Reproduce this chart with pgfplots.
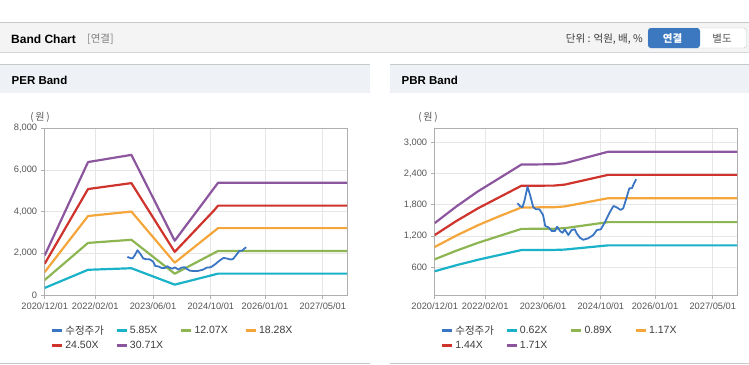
\documentclass[border=0pt]{standalone}
\usepackage{fontspec}
\setmainfont{Liberation Sans}
\newfontfamily\kr{Noto Sans CJK KR}
\usepackage{pgfplots}
\pgfplotsset{compat=1.18}

\definecolor{cPrice}{RGB}{58,117,196}
\definecolor{cCyan}{RGB}{26,178,200}
\definecolor{cGreen}{RGB}{141,182,82}
\definecolor{cOrange}{RGB}{244,166,58}
\definecolor{cRed}{RGB}{206,51,44}
\definecolor{cPurple}{RGB}{140,86,158}
\definecolor{axisgray}{RGB}{175,175,175}
\definecolor{gridgray}{RGB}{230,230,230}
\definecolor{labgray}{RGB}{85,85,85}
\definecolor{legtext}{RGB}{60,60,60}
\definecolor{hdrbg}{RGB}{244,244,244}
\definecolor{panelhdr}{RGB}{238,241,246}
\definecolor{line1}{RGB}{200,200,200}
\definecolor{line2}{RGB}{215,215,215}
\definecolor{btnblue}{RGB}{59,120,192}

\pgfplotsset{
  bandaxis/.style={
    scale only axis, width=302.3pt, height=166.7pt,
    xmin=0, xmax=83.7,
    xtick={0,14,30,46,61,77},
    xticklabels={2020/12/01,2022/02/01,2023/06/01,2024/10/01,2026/01/01,2027/05/01},
    grid=major, major grid style={gridgray, line width=0.8pt},
    axis line style={axisgray, line width=0.9pt},
    tick style={axisgray, line width=0.9pt},
    tick align=outside, major tick length=4pt,
    xtick pos=left, ytick pos=left,
    ticklabel style={font=\fontsize{9.3}{10}\selectfont, text=labgray},
    /pgf/number format/assume math mode=true,
    /pgf/number format/1000 sep={,},
    scaled y ticks=false,
    legend columns=4,
    legend cell align=left,
    legend style={draw=none, fill=none, inner sep=0pt, outer sep=0pt,
      font=\fontsize{10.5}{12}\selectfont, text=legtext,
      at={(0.02,-0.17)}, anchor=north west, row sep=1.5pt},
    legend image code/.code={\draw[#1, line width=2.6pt] (0pt,0pt) -- (10pt,0pt);},
  },
  band/.style={line width=2.2pt, line join=round, mark=none},
  price/.style={cPrice, line width=1.8pt, line join=round, mark=none},
}

\begin{document}
\begin{tikzpicture}
\path[use as bounding box] (0,0) rectangle (749pt,-364pt);
\begin{scope}[x=1pt,y=-1pt]
  % top header bar
  \fill[hdrbg] (0,22.5) rectangle (749,52.5);
  \draw[line1, line width=1pt] (0,22.5) -- (749,22.5);
  \draw[line2, line width=1pt] (0,52.5) -- (749,52.5);
  \node[anchor=west, inner sep=0pt, font=\fontsize{12}{14}\selectfont\bfseries] at (11,39) {Band Chart};
  \node[anchor=west, inner sep=0pt, text=gray, font=\kr\fontsize{10.5}{12}\selectfont] at (87,39) {[연결]};
  \node[anchor=east, inner sep=0pt, text=legtext, font=\kr\fontsize{10.5}{12}\selectfont] at (643,39) {단위 : 억원, 배, \%};
  \draw[line1, fill=white, rounded corners=3pt] (648,28) rectangle (746.5,48);
  \fill[btnblue, rounded corners=3pt] (648,28) rectangle (700,48);
  \fill[btnblue] (690,28) rectangle (697.5,48);
  \node[text=white, inner sep=0pt, font=\kr\fontsize{10.5}{12}\selectfont\bfseries] at (672.5,38.5) {연결};
  \node[text=labgray, inner sep=0pt, font=\kr\fontsize{10.5}{12}\selectfont] at (722,38.5) {별도};
  % panels
  \foreach \xa/\xb in {0/370, 390/749}{
    \fill[panelhdr] (\xa,64.5) rectangle (\xb,92.5);
    \draw[line1, line width=1pt] (\xa,64.5) -- (\xb,64.5);
    \draw[line1, line width=1pt] (\xa,363) -- (\xb,363);
  }
  \node[anchor=west, inner sep=0pt, font=\fontsize{11.5}{13}\selectfont\bfseries] at (11.5,80) {PER Band};
  \node[anchor=west, inner sep=0pt, font=\fontsize{11.5}{13}\selectfont\bfseries] at (401.5,80) {PBR Band};
  \node[text=labgray, inner sep=0pt, font=\kr\fontsize{10}{12}\selectfont] at (40,117) {(\,원\,)};
  \node[text=labgray, inner sep=0pt, font=\kr\fontsize{10}{12}\selectfont] at (428,117) {(\,원\,)};
\end{scope}

% ---------------- PER Band ----------------
\begin{axis}[bandaxis, at={(44.7pt,-295pt)}, anchor=south west,
  ymin=0, ymax=8000, ytick={0,2000,4000,6000,8000}]
\addlegendimage{price}
\addlegendentry{\makebox[48pt][l]{\kr 수정주가}}
\addplot[band, cCyan] coordinates {(0,340) (12,1210) (24,1285) (36,497) (48,1025) (83.7,1025)};
\addlegendentry{\makebox[48pt][l]{5.85X}}
\addplot[band, cGreen] coordinates {(0,720) (12,2500) (24,2650) (36,1020) (48,2115) (83.7,2115)};
\addlegendentry{\makebox[48pt][l]{12.07X}}
\addplot[band, cOrange] coordinates {(0,1100) (12,3790) (24,4005) (36,1550) (48,3210) (83.7,3210)};
\addlegendentry{\makebox[48pt][l]{18.28X}}
\addplot[band, cRed] coordinates {(0,1500) (12,5085) (24,5370) (36,2070) (47,4080) (48,4290) (83.7,4290)};
\addlegendentry{\makebox[48pt][l]{24.50X}}
\addplot[band, cPurple] coordinates {(0,1900) (12,6380) (24,6725) (36,2605) (48,5385) (83.7,5385)};
\addlegendentry{\makebox[48pt][l]{30.71X}}
\addplot[price, forget plot] coordinates {
(22.9,1831) (23.6,1779) (24.3,1753) (24.9,1894) (25.7,2150) (26.4,1990)
(27.3,1753) (28.1,1715) (29,1715) (30,1606) (30.6,1394) (31.5,1369)
(32.4,1298) (33.3,1298) (33.9,1381) (34.7,1298) (35.4,1265) (36,1331)
(37,1221) (37.9,1317) (38.8,1331) (39.3,1254) (40.2,1170) (41.1,1150)
(42.5,1158) (43.9,1221) (44.9,1317) (46,1331) (47.2,1477) (48.4,1650)
(49.5,1779) (50.4,1753) (51.5,1702) (52.2,1734) (53.2,1958) (53.9,2119)
(54.6,2119) (55.2,2215) (55.8,2292)};
\end{axis}

% ---------------- PBR Band ----------------
\begin{axis}[bandaxis, at={(434.7pt,-295pt)}, anchor=south west,
  ymin=70, ymax=3270, ytick={600,1200,1800,2400,3000}]
\addlegendimage{price}
\addlegendentry{\makebox[48pt][l]{\kr 수정주가}}
\addplot[band, cCyan] coordinates {(0,526) (6,642) (12,747) (18,840) (24,933) (33,935) (36,942) (48,1023) (83.7,1023)};
\addlegendentry{\makebox[48pt][l]{0.62X}}
\addplot[band, cGreen] coordinates {(0,755) (6,921) (12,1072) (18,1206) (24,1339) (33,1343) (36,1353) (48,1469) (83.7,1469)};
\addlegendentry{\makebox[48pt][l]{0.89X}}
\addplot[band, cOrange] coordinates {(0,992) (6,1211) (12,1410) (18,1585) (24,1750) (33,1755) (36,1770) (48,1928) (83.7,1928)};
\addlegendentry{\makebox[48pt][l]{1.17X}}
\addplot[band, cRed] coordinates {(0,1221) (6,1490) (12,1735) (18,1951) (24,2167) (33,2170) (36,2189) (48,2376) (83.7,2376)};
\addlegendentry{\makebox[48pt][l]{1.44X}}
\addplot[band, cPurple] coordinates {(0,1450) (6,1770) (12,2061) (18,2317) (24,2574) (33,2580) (36,2599) (48,2820) (83.7,2820)};
\addlegendentry{\makebox[48pt][l]{1.71X}}
\addplot[price, forget plot] coordinates {
(22.9,1831) (23.6,1779) (24.3,1753) (24.9,1894) (25.7,2150) (26.4,1990)
(27.3,1753) (28.1,1715) (29,1715) (30,1606) (30.6,1394) (31.5,1369)
(32.4,1298) (33.3,1298) (33.9,1381) (34.7,1298) (35.4,1265) (36,1331)
(37,1221) (37.9,1317) (38.8,1331) (39.3,1254) (40.2,1170) (41.1,1130)
(42.5,1158) (43.9,1221) (44.9,1317) (46,1331) (47.2,1477) (48.4,1650)
(49.5,1779) (50.4,1753) (51.5,1702) (52.2,1734) (53.2,1958) (53.9,2119)
(54.6,2119) (55.2,2215) (55.8,2292)};
\end{axis}
\end{tikzpicture}
\end{document}
